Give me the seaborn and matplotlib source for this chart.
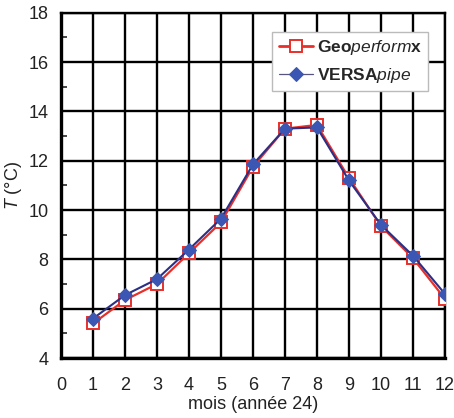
import seaborn as sns
import pandas as pd
import matplotlib.pyplot as plt
from matplotlib.ticker import MultipleLocator

# valeurs
mois = [1, 2, 3, 4, 5, 6, 7, 8, 9, 10, 11, 12]
geo = [5.4, 6.35, 7.0, 8.25, 9.5, 11.75, 13.3, 13.45, 11.3, 9.35, 8.05, 6.4]
versa = [5.6, 6.55, 7.2, 8.4, 9.65, 11.85, 13.3, 13.35, 11.2, 9.4, 8.15, 6.6]

df = pd.DataFrame({'mois': mois * 2,
                   'T': geo + versa,
                   'serie': ['Geo'] * 12 + ['Versa'] * 12})

sns.set_style('white')
plt.rcParams['font.family'] = ['Liberation Sans', 'DejaVu Sans']
plt.rcParams['mathtext.fontset'] = 'custom'
plt.rcParams['mathtext.rm'] = 'Liberation Sans'
plt.rcParams['mathtext.it'] = 'Liberation Sans:italic'
plt.rcParams['mathtext.bf'] = 'Liberation Sans:bold'

fig = plt.figure(figsize=(4.54, 4.18), dpi=100)
ax = fig.add_axes([0.1344, 0.1435, 0.8456, 0.826])

sns.lineplot(data=df[df['serie'] == 'Geo'], x='mois', y='T', ax=ax,
             color='#e8302a', lw=1.6, marker='s', markersize=9,
             markerfacecolor='white', markeredgecolor='#e8302a', markeredgewidth=1.4,
             label=r'$\mathbf{Geo}\mathit{perform}\mathbf{x}$', zorder=3)
sns.lineplot(data=df[df['serie'] == 'Versa'], x='mois', y='T', ax=ax,
             color='#2b2f85', lw=1.5, marker='D', markersize=7.5,
             markerfacecolor='#3b57b3', markeredgecolor='#3b57b3',
             label=r'$\mathbf{VERSA}\mathit{pipe}$', zorder=4)

ax.set_xlim(0, 12)
ax.set_ylim(4, 18)
ax.xaxis.set_major_locator(MultipleLocator(1))
ax.yaxis.set_major_locator(MultipleLocator(2))
ax.yaxis.set_minor_locator(MultipleLocator(1))
ax.grid(True, which='major', color='black', lw=1.7)
for s in ax.spines.values():
    s.set_color('black')
    s.set_linewidth(1.7)
ax.spines['left'].set_linewidth(2.4)
ax.spines['bottom'].set_linewidth(2.4)
ax.tick_params(axis='both', which='major', labelsize=13, length=0, colors='#222222')
ax.tick_params(axis='x', which='major', pad=14)
ax.tick_params(axis='y', which='major', pad=9)
ax.tick_params(axis='y', which='minor', direction='in', length=4, width=1.2, left=True)

ax.set_xlabel('mois (année 24)', fontsize=13, color='#222222', labelpad=1)
ax.set_ylabel(r'$\mathit{T}$ (°C)', fontsize=13, color='#222222', labelpad=3)

leg = ax.legend(loc='upper right', bbox_to_anchor=(0.956, 0.944), borderaxespad=0,
                fontsize=12.5, frameon=True, fancybox=False, edgecolor='#bbbbbb',
                framealpha=1, handlelength=2.0, handletextpad=0.2, borderpad=0.35,
                labelspacing=0.5)
leg.get_frame().set_linewidth(1.0)
leg.get_lines()[0].set_linewidth(2.0)
leg.get_lines()[1].set_linewidth(0.9)
leg.get_lines()[1].set_color('#555580')

plt.savefig('out.png', dpi=100)
